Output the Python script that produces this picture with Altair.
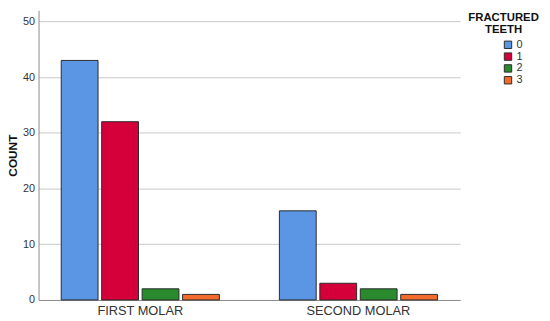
import altair as alt
import pandas as pd

molars = ["FIRST MOLAR", "SECOND MOLAR"]
teeth = ["0", "1", "2", "3"]
first_counts = [43, 32, 2, 1]
second_counts = [16, 3, 2, 1]
colors = ["#5A96E3", "#D5003A", "#2A8A2E", "#F26B2C"]

rows = []
for t, v in zip(teeth, first_counts):
    rows.append({"molar": molars[0], "teeth": t, "count": v})
for t, v in zip(teeth, second_counts):
    rows.append({"molar": molars[1], "teeth": t, "count": v})
df = pd.DataFrame(rows)

FONT = "Liberation Sans"

chart = alt.Chart(df).mark_bar(stroke="#2b2b2b", strokeWidth=1).encode(
    x=alt.X("molar:N", sort=molars, title=None,
            scale=alt.Scale(paddingInner=0.275, paddingOuter=0.104),
            axis=alt.Axis(labelAngle=0, labelFontSize=13, labelColor="#333333",
                          labelFont=FONT, tickSize=0, labelPadding=5,
                          domainColor="#8c8c8c", grid=False)),
    xOffset=alt.XOffset("teeth:N", sort=teeth,
                        scale=alt.Scale(paddingInner=0.09, paddingOuter=0)),
    y=alt.Y("count:Q", title="COUNT",
            scale=alt.Scale(domain=[0, 52], nice=False),
            axis=alt.Axis(values=[0, 10, 20, 30, 40, 50], labelFontSize=11,
                          labelColor="#333333", labelFont=FONT, tickSize=0,
                          labelPadding=4, domainColor="#8c8c8c",
                          gridColor="#c8c8c8", titleFont=FONT, titleFontSize=12,
                          titleFontWeight="bold", titleColor="#111111",
                          titlePadding=3)),
    color=alt.Color("teeth:N", sort=teeth,
                    scale=alt.Scale(domain=teeth, range=colors),
                    legend=alt.Legend(
                        title=["FRACTURED", "TEETH"], orient="none",
                        legendX=436, legendY=2,
                        titleFont=FONT, titleFontSize=11.5, titleFontWeight="bold",
                        titleColor="#111111", titleAlign="center",
                        titleAnchor="middle", titleLineHeight=12,
                        titlePadding=4,
                        labelFont=FONT, labelFontSize=11, labelColor="#333333",
                        symbolType="square", symbolSize=56, symbolStrokeWidth=1,
                        symbolStrokeColor="#2b2b2b", symbolOffset=19,
                        rowPadding=-4, labelOffset=3)),
).properties(
    width=428, height=294,
    autosize=alt.AutoSizeParams(type="none"),
    padding={"left": 31, "top": 0, "right": 83, "bottom": 18},
).configure_view(stroke=None)

chart.save("out.html", embed_options={"renderer": "svg", "actions": False})
